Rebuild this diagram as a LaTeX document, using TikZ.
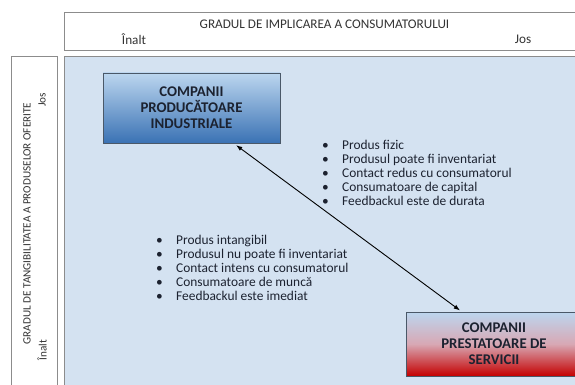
\documentclass[tikz,border=0pt]{standalone}
\usepackage{fontspec}
\setmainfont{Carlito}
\usetikzlibrary{arrows.meta}
\definecolor{panelfill}{HTML}{D4E2F1}
\definecolor{frame}{HTML}{8C8C8C}
\definecolor{boxline}{HTML}{4A5868}
\definecolor{skytop}{HTML}{BCD6EF}
\definecolor{steel}{HTML}{3A72B4}
\definecolor{blush}{HTML}{D8A8B4}
\definecolor{crimson}{HTML}{C40000}
\definecolor{ink}{HTML}{1C2230}
\tikzset{
  axisbox/.style={draw=frame, line width=1pt, fill=white},
  panel/.style={draw=frame, line width=1pt, fill=panelfill},
  company/.style={
    draw=boxline,
    line width=0.8pt,
    align=center,
    font=\fontsize{14.8}{16}\selectfont\bfseries,
    text=ink,
    inner sep=0pt
  },
  industry/.style={company, top color=skytop, bottom color=steel},
  service/.style={company, top color=skytop, bottom color=crimson, middle color=blush},
  traits/.style={font=\fontsize{13.4}{14}\selectfont, align=left, inner sep=0pt, anchor=north west, text=ink},
  axislabel/.style={font=\fontsize{13.2}{14}\selectfont, text=black!80},
  sidelabel/.style={font=\fontsize{11.2}{12}\selectfont, text=black!80, rotate=90},
  link/.style={line width=0.9pt, {Latex[length=2.2mm,width=1.6mm]}-{Latex[length=2.2mm,width=1.6mm]}}
}
\newcommand{\trait}[1]{\makebox[20pt][l]{\textbullet}#1}

\begin{document}
\begin{tikzpicture}[x=1pt,y=-1pt]
\useasboundingbox (0,0) rectangle (575,385);
\clip (0,0) rectangle (575,385);
\fill[white] (0,0) rectangle (575,385);

% axis frames
\path[axisbox] (64,13) rectangle (580,51);
\path[axisbox] (11,57) rectangle (57,392);
\path[panel] (64,57) rectangle (580,392);

\node[axislabel] (implic) at (324.5,24) {GRADUL DE IMPLICAREA A CONSUMATORULUI};
\node[axislabel] (implichigh) at (134,39) {Înalt};
\node[axislabel] (impliclow) at (523,39) {Jos};

\node[sidelabel] (tang) at (27,223.5) {GRADUL DE TANGIBILITATEA A PRODUSELOR OFERITE};
\node[sidelabel] (tanglow) at (42,100) {Jos};
\node[sidelabel] (tanghigh) at (42,350) {Înalt};

% companies
\node[industry, minimum width=177, minimum height=70] (prod) at (191.5,108)
  {COMPANII\\PRODUCĂTOARE\\INDUSTRIALE};
\node[service, minimum width=176, minimum height=64] (serv) at (494,344)
  {COMPANII\\PRESTATOARE DE\\SERVICII};
\draw[link, shorten <=3pt, shorten >=2pt] (prod.-40) -- (serv.135);

% traits
\node[traits] (goods) at (322,140)
  {\trait{Produs fizic}\\
   \trait{Produsul poate fi inventariat}\\
   \trait{Contact redus cu consumatorul}\\
   \trait{Consumatoare de capital}\\
   \trait{Feedbackul este de durata}};
\node[traits] (services) at (156,235)
  {\trait{Produs intangibil}\\
   \trait{Produsul nu poate fi inventariat}\\
   \trait{Contact intens cu consumatorul}\\
   \trait{Consumatoare de muncă}\\
   \trait{Feedbackul este imediat}};
\end{tikzpicture}
\end{document}
